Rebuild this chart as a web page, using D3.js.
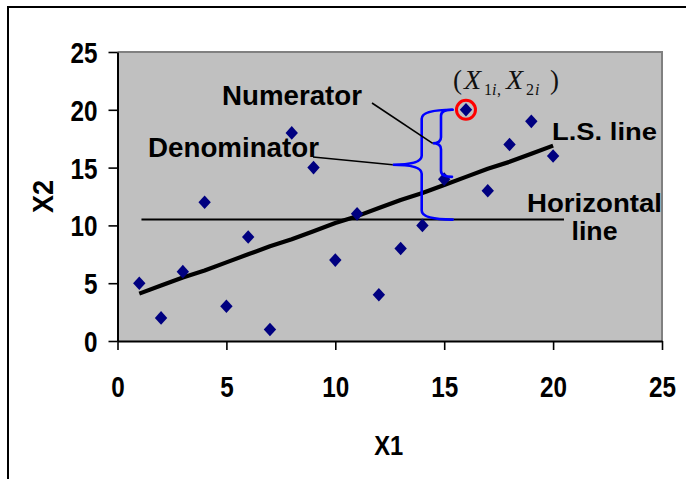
<!DOCTYPE html>
<html>
<head>
<meta charset="utf-8">
<script src="https://cdn.jsdelivr.net/npm/d3@7"></script>
<style>
  html, body { margin: 0; padding: 0; background: #fff; }
  svg { display: block; }
  .sans { font-family: "Liberation Sans", Arial, sans-serif; font-weight: bold; }
  .serif { font-family: "Liberation Serif", "Times New Roman", serif; }
</style>
</head>
<body>
<svg id="chart" width="686" height="479"></svg>
<script>
// Observations: X1 (independent) and X2 (dependent)
const x1Values = [1, 2, 3, 4, 5, 6, 7, 8, 9, 10, 11, 12, 13, 14, 15, 16, 17, 18, 19, 20];
const x2Values = [5, 2, 6, 12, 3, 9, 1, 18, 15, 7, 11, 4, 8, 10, 14, 20, 13, 17, 19, 16];

// Least-squares fitted X2 at each X1
const lsFitted = [4.1, 4.8, 5.5, 6.1, 6.8, 7.5, 8.2, 8.8, 9.5, 10.2, 10.8, 11.5, 12.2, 12.8, 13.5, 14.2, 14.9, 15.5, 16.2, 16.9];

// Mean of X2 (horizontal reference line) and its extent along X1
const meanX2 = 10.5;
const meanLineExtent = [1.1, 20.5];

// Highlighted observation (X1i, X2i)
const highlightIndex = 15;

// Axis ticks
const xTicks = [0, 5, 10, 15, 20, 25];
const yTicks = [0, 5, 10, 15, 20, 25];

const svg = d3.select("#chart");

const x = d3.scaleLinear().domain([0, 25]).range([117.5, 662]);
const y = d3.scaleLinear().domain([0, 25]).range([341, 52]);

// Outer frame (top and left edges)
svg.append("path")
  .attr("d", "M8,479 L8,7 L686,7")
  .attr("fill", "none").attr("stroke", "#000").attr("stroke-width", 2);

// Plot area
svg.append("rect")
  .attr("x", x(0)).attr("y", y(25))
  .attr("width", x(25) - x(0)).attr("height", y(0) - y(25))
  .attr("fill", "#c0c0c0");
svg.append("path")
  .attr("d", `M${x(0)},${y(25)} L${x(25)},${y(25)} L${x(25)},${y(0)}`)
  .attr("fill", "none").attr("stroke", "#808080").attr("stroke-width", 2);

// X axis
const gx = svg.append("g")
  .attr("transform", `translate(0,${y(0)})`)
  .call(d3.axisBottom(x).tickValues(xTicks).tickSize(9).tickSizeOuter(0).tickFormat(d3.format("d")));
gx.select(".domain").attr("stroke", "#000").attr("stroke-width", 2);
gx.selectAll(".tick line").attr("stroke", "#000").attr("stroke-width", 1.6);
gx.selectAll(".tick text")
  .attr("class", "sans")
  .attr("font-size", 29)
  .attr("fill", "#000")
  .attr("y", 56).attr("dy", null)
  .attr("textLength", d => String(d).length * 13.5)
  .attr("lengthAdjust", "spacingAndGlyphs");

// Y axis
const gy = svg.append("g")
  .attr("transform", `translate(${x(0)},0)`)
  .call(d3.axisLeft(y).tickValues(yTicks).tickSize(9).tickSizeOuter(0).tickPadding(11).tickFormat(d3.format("d")));
gy.select(".domain").attr("stroke", "#000").attr("stroke-width", 2);
gy.selectAll(".tick line").attr("stroke", "#000").attr("stroke-width", 1.6);
gy.selectAll(".tick text")
  .attr("class", "sans")
  .attr("font-size", 29)
  .attr("fill", "#000")
  .attr("dy", "0.36em")
  .attr("textLength", d => String(d).length * 13.5)
  .attr("lengthAdjust", "spacingAndGlyphs");

// Axis titles
svg.append("text")
  .attr("class", "sans")
  .attr("x", (x(0) + x(25)) / 2 - 1).attr("y", 455)
  .attr("text-anchor", "middle").attr("font-size", 27)
  .attr("textLength", 29).attr("lengthAdjust", "spacingAndGlyphs")
  .text("X1");
svg.append("text")
  .attr("class", "sans")
  .attr("transform", `translate(53,${(y(0) + y(25)) / 2}) rotate(-90)`)
  .attr("text-anchor", "middle").attr("font-size", 30)
  .attr("textLength", 33).attr("lengthAdjust", "spacingAndGlyphs")
  .text("X2");

// Horizontal line at the mean of X2
svg.append("line")
  .attr("x1", x(meanLineExtent[0])).attr("x2", x(meanLineExtent[1]))
  .attr("y1", y(meanX2)).attr("y2", y(meanX2))
  .attr("stroke", "#000").attr("stroke-width", 2);

// Least-squares line
svg.append("path")
  .datum(x1Values.map((v, i) => [v, lsFitted[i]]))
  .attr("d", d3.line().x(d => x(d[0])).y(d => y(d[1])))
  .attr("fill", "none").attr("stroke", "#000").attr("stroke-width", 4.2)
  .attr("stroke-linejoin", "round");

// Data points (diamonds)
const diamond = (cx, cy) => `M${cx},${cy - 6.8} L${cx + 6.2},${cy} L${cx},${cy + 6.8} L${cx - 6.2},${cy} Z`;
svg.append("g").selectAll("path")
  .data(x1Values.map((v, i) => [v, x2Values[i]]))
  .join("path")
  .attr("d", d => diamond(x(d[0]), y(d[1])))
  .attr("fill", "#000080");

// Curly braces
function bracePath(xe, xs, xt, yT, yB, r) {
  const ym = (yT + yB) / 2;
  return `M${xe},${yT} Q${xs},${yT} ${xs},${yT + r} L${xs},${ym - r} ` +
         `Q${xs},${ym} ${xt},${ym} Q${xs},${ym} ${xs},${ym + r} ` +
         `L${xs},${yB - r} Q${xs},${yB} ${xe},${yB}`;
}
const hx = x1Values[highlightIndex], hy = x2Values[highlightIndex];
const fitAtH = lsFitted[highlightIndex];

// Denominator brace: observation down to the mean line
const bigTipX = 392.7, bigYMid = (y(hy) + y(meanX2)) / 2;
svg.append("path")
  .attr("d", bracePath(452.7, 421.7, bigTipX, y(hy), y(meanX2), 9))
  .attr("fill", "none").attr("stroke", "#0000ff").attr("stroke-width", 2.6)
  .attr("stroke-linecap", "round");

// Numerator brace: observation down to the fitted value
const smallTipX = 432.7, smallYMid = (y(hy) + y(fitAtH)) / 2;
svg.append("path")
  .attr("d", bracePath(452, 441, smallTipX, y(hy), y(fitAtH), 6))
  .attr("fill", "none").attr("stroke", "#0000ff").attr("stroke-width", 2.6)
  .attr("stroke-linecap", "round");

// Pointer lines from the labels to the braces
svg.append("line")
  .attr("x1", 372).attr("y1", 103).attr("x2", smallTipX).attr("y2", smallYMid)
  .attr("stroke", "#000").attr("stroke-width", 1.6);
svg.append("line")
  .attr("x1", 313).attr("y1", 157).attr("x2", bigTipX).attr("y2", bigYMid)
  .attr("stroke", "#000").attr("stroke-width", 1.6);

// Highlight circle
svg.append("circle")
  .attr("cx", x(hx)).attr("cy", y(hy)).attr("r", 9.5)
  .attr("fill", "none").attr("stroke", "#ff0000").attr("stroke-width", 3);

// Text labels
const label = (txt, px, py, size, len, anchor) => svg.append("text")
  .attr("class", "sans")
  .attr("x", px).attr("y", py)
  .attr("font-size", size)
  .attr("text-anchor", anchor || "start")
  .attr("textLength", len).attr("lengthAdjust", "spacingAndGlyphs")
  .attr("fill", "#000")
  .text(txt);
label("Numerator", 222, 105, 27, 140);
label("Denominator", 148, 157, 27, 171);
label("L.S. line", 552, 139.5, 23, 105);
label("Horizontal", 594.5, 211.5, 26, 135, "middle");
label("line", 594.5, 240, 26, 46, "middle");

// (X1i, X2i) label
const coord = svg.append("text").attr("class", "serif").attr("fill", "#111");
const parts = [
  { t: "(", x: 453, y: 89, s: 27, it: false },
  { t: "X", x: 464, y: 89, s: 28, it: true },
  { t: "1", x: 484, y: 95, s: 16, it: false },
  { t: "i", x: 492, y: 95, s: 16, it: true },
  { t: ",", x: 497, y: 95, s: 16, it: false },
  { t: "X", x: 506, y: 89, s: 28, it: true },
  { t: "2", x: 526, y: 95, s: 16, it: false },
  { t: "i", x: 535, y: 95, s: 16, it: true },
  { t: ")", x: 550, y: 89, s: 27, it: false }
];
coord.selectAll("tspan")
  .data(parts)
  .join("tspan")
  .attr("x", d => d.x).attr("y", d => d.y)
  .attr("font-size", d => d.s)
  .attr("font-style", d => d.it ? "italic" : "normal")
  .text(d => d.t);
</script>
</body>
</html>
